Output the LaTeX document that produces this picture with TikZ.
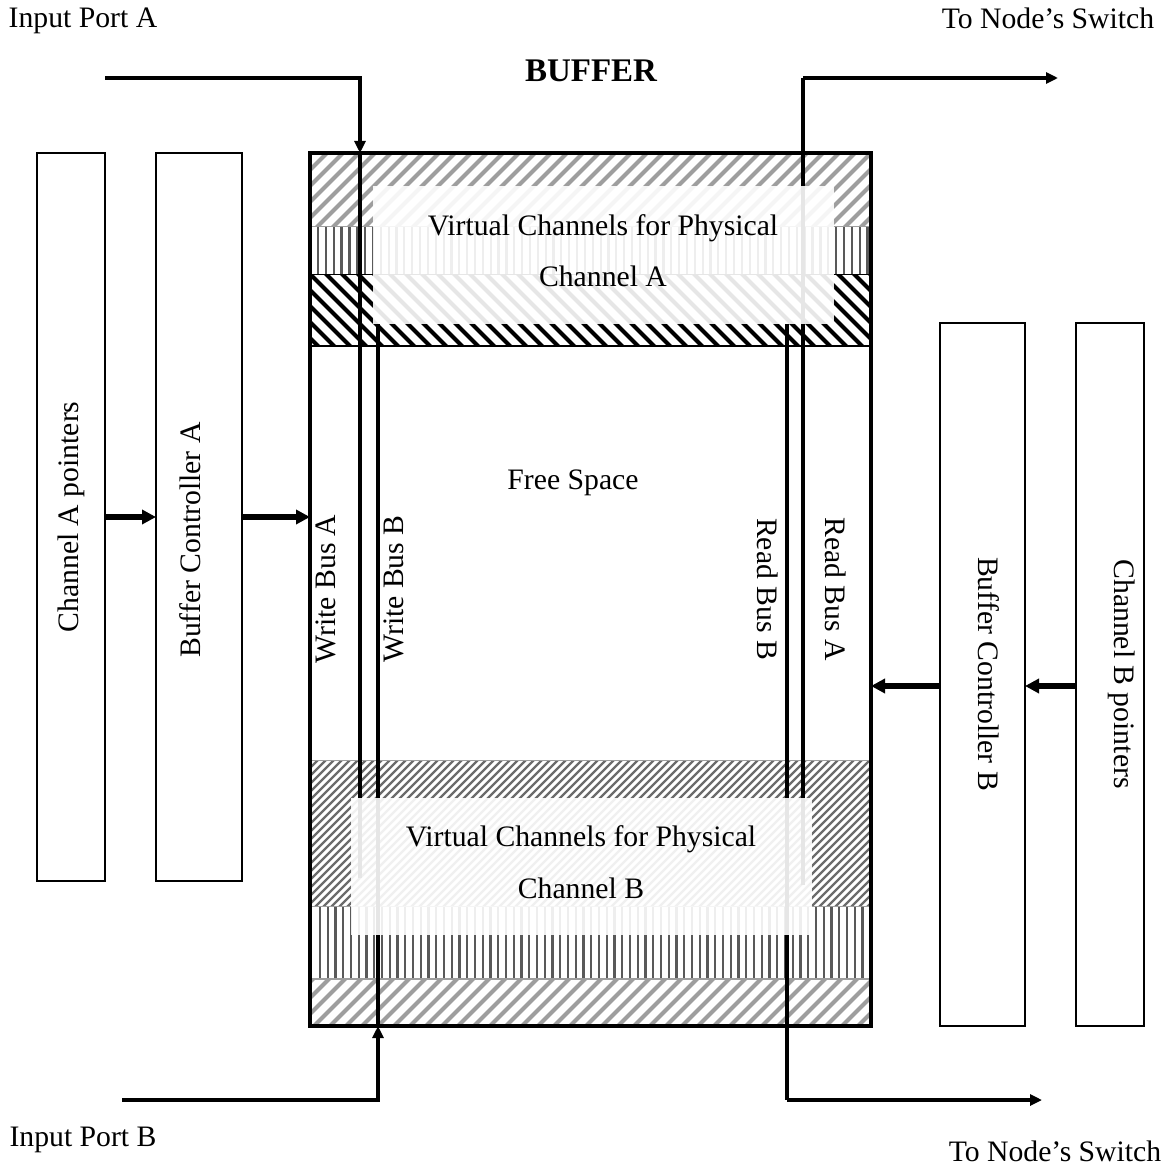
\documentclass[tikz,border=0pt]{standalone}
\usepackage{fontspec}
\setmainfont{Liberation Serif}
\usetikzlibrary{arrows.meta}
\tikzset{
  x=1pt,y=-1pt,
  lab/.style={inner sep=0pt,font=\fontsize{29.7}{34}\selectfont,text=black},
  sidebox/.style={draw=black,line width=2pt,fill=white,inner sep=0pt,outer sep=0pt,anchor=north west},
  bigarrow/.style={line width=5.5pt,-{Triangle[length=14pt,width=14pt]}},
  bus/.style={line width=4.5pt,draw=black},
  busarrow/.style={line width=3.8pt,draw=black,-{Triangle[length=12pt,width=11pt]}},
  veil/.style={fill=white,draw=none,opacity=.9}
}
\begin{document}
\begin{tikzpicture}
\useasboundingbox (0,0) rectangle (1168,1169);
% hatched bands
\begin{scope}
\clip (310,153) rectangle (871,226);
\foreach \i in {0,...,45} \draw[line width=4pt,color=black!38] (212+16*\i,236) -- ++(90,-90);
\end{scope}
\begin{scope}
\clip (310,226) rectangle (871,274);
\foreach \i in {0,...,72} \draw[line width=2.2pt,color=black!65] (318+7.85*\i,226) -- ++(0,48);
\draw[line width=2pt,color=black!38] (310,226) -- (871,226);
\end{scope}
\begin{scope}
\clip (310,274) rectangle (871,346);
\foreach \i in {0,...,45} \draw[line width=4pt,color=black] (220+16*\i,264) -- ++(90,90);
\draw[line width=2pt,color=black] (310,274) -- (871,274);
\draw[line width=2.5pt,color=black] (310,346) -- (871,346);
\end{scope}
\begin{scope}
\clip (310,760) rectangle (871,906);
\foreach \i in {0,...,95} \draw[line width=2.4pt,color=black!58] (150+8*\i,920) -- ++(170,-170);
\draw[line width=2.5pt,color=black!38] (310,760) -- (871,760);
\end{scope}
\begin{scope}
\clip (310,906) rectangle (871,978);
\foreach \i in {0,...,72} \draw[line width=2.2pt,color=black!65] (320+7.75*\i,906) -- ++(0,72);
\draw[line width=2.5pt,color=black!38] (310,906) -- (871,906);
\end{scope}
\begin{scope}
\clip (310,978) rectangle (871,1026);
\foreach \i in {0,...,45} \draw[line width=4pt,color=black!38] (240+16*\i,1036) -- ++(70,-70);
\draw[line width=3pt,color=black!38] (310,978) -- (871,978);
\end{scope}
% buffer and side boxes
\node[draw=black,line width=4pt,inner sep=0pt,outer sep=0pt,anchor=north west,minimum width=561pt,minimum height=873pt] (buf) at (310,153) {};
\node[sidebox,minimum width=68pt,minimum height=728pt] (chA) at (37,153) {};
\node[sidebox,minimum width=86pt,minimum height=728pt] (bcA) at (156,153) {};
\node[sidebox,minimum width=85pt,minimum height=703pt] (bcB) at (940,323) {};
\node[sidebox,minimum width=68pt,minimum height=703pt] (chB) at (1076,323) {};
% named points
\coordinate (pa) at (105,78);
\coordinate (pb) at (122,1100);
\coordinate (oa) at (1058,78);
\coordinate (ob) at (1042,1100);
\coordinate (wa) at (360,153);
\coordinate (wb) at (378,1026);
\coordinate (wbt) at (378,324);
\coordinate (wae) at (360,878);
\coordinate (ra) at (803,78);
\coordinate (rae) at (803,885);
\coordinate (rb) at (787,1100);
\coordinate (rbt) at (787,324);
% buses
\draw[bus] (wa) -- (wae);
\draw[bus] (wbt) -- (wb);
\draw[bus] (ra) -- (rae);
\draw[bus] (rbt) -- (rb);
\draw[busarrow] (pa) -| (wa);
\draw[busarrow] (pb) -| (wb);
\draw[busarrow] (ra) -- (oa);
\draw[busarrow] (rb) -- (ob);
% veils
\fill[veil] (373,186) rectangle (834,324);
\fill[veil] (351,798) rectangle (812,935);
% control arrows
\draw[bigarrow] (chA.east) -- (bcA.west);
\draw[bigarrow] (bcA.east) -- (bcA.east -| buf.west);
\draw[bigarrow] ([yshift=-11.5pt]bcB.west) -- ([yshift=-11.5pt]bcB.west -| buf.east);
\draw[bigarrow] ([yshift=-11.5pt]chB.west) -- ([yshift=-11.5pt]bcB.east);
% labels
\node[lab] (t1) at (83,21) {Input Port A};
\node[lab] (t2) at (1048,18) {To Node’s Switch};
\node[lab,font=\fontsize{33}{38}\selectfont\bfseries] (t3) at (591,71) {BUFFER};
\node[lab] (t4) at (83,1140) {Input Port B};
\node[lab] (t5) at (1055,1151) {To Node’s Switch};
\node[lab,rotate=90] (t6) at (71,517) {Channel A pointers};
\node[lab,rotate=90] (t7) at (190,540) {Buffer Controller A};
\node[lab,rotate=90] (t8) at (326,589) {Write Bus A};
\node[lab,rotate=90] (t9) at (394,589) {Write Bus B};
\node[lab,rotate=-90] (t10) at (768,589) {Read Bus B};
\node[lab,rotate=-90] (t11) at (836,589) {Read Bus A};
\node[lab,rotate=-90] (t12) at (989,674) {Buffer Controller B};
\node[lab,rotate=-90] (t13) at (1122,674) {Channel B pointers};
\node[lab] (t14) at (573,483) {Free Space};
\node[lab] (t15) at (603,228) {Virtual Channels for Physical};
\node[lab] (t16) at (603,276) {Channel A};
\node[lab] (t17) at (581,839) {Virtual Channels for Physical};
\node[lab] (t18) at (581,888) {Channel B};
\end{tikzpicture}
\end{document}
